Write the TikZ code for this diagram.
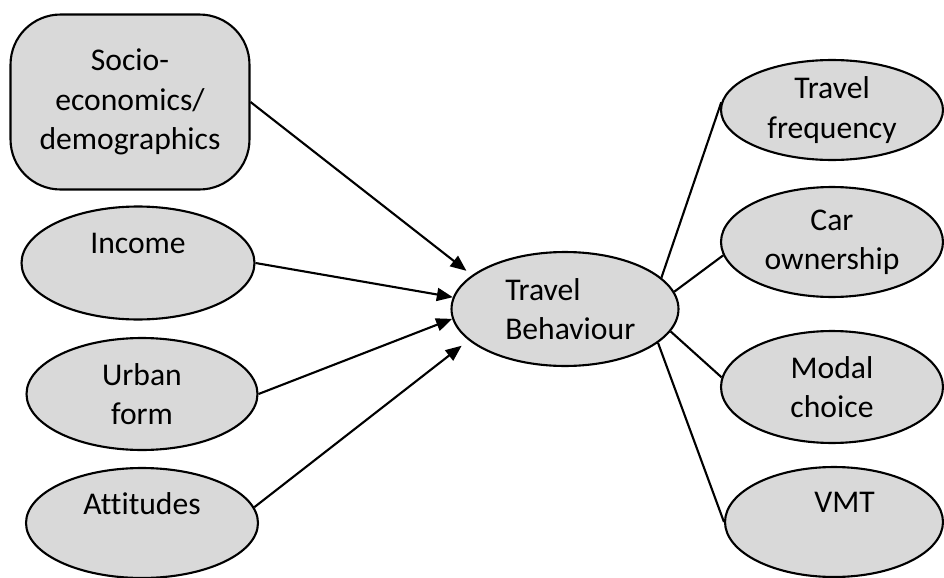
\documentclass[tikz,border=0pt]{standalone}
\usepackage{fontspec}
\setmainfont{Carlito}[Ligatures=NoCommon]
\usepackage{xcolor}
\usetikzlibrary{positioning,arrows.meta,shapes.geometric}
\definecolor{shade}{HTML}{D9D9D9}

\begin{document}
\begin{tikzpicture}[
    x=0.02cm, y=-0.02cm,
    every node/.style={font=\fontsize{18}{22.4}\selectfont},
    oval/.style={ellipse, draw, fill=shade, line width=1.2pt, inner sep=0pt, align=center},
    roundbox/.style={rectangle, draw, fill=shade, line width=1.2pt, rounded corners=1cm, align=center},
    feed/.style={-{Triangle[length=0.32cm, width=0.26cm]}, line width=1.2pt},
    tie/.style={line width=1.2pt}
]
\useasboundingbox (0,0) rectangle (944,578);

% influencing factors
\node[roundbox, minimum width=4.78cm, minimum height=3.5cm] (Socio) at (130,102) {Socio-\\economics/\\demographics};
\node[oval, minimum width=4.66cm, minimum height=2.26cm] (Income) at (138,263) {Income\\~};
\node[oval, minimum width=4.62cm, minimum height=2.24cm] (Urban) at (142,394) {Urban\\form};
\node[oval, minimum width=4.64cm, minimum height=2.2cm] (Attitudes) at (142,523) {Attitudes\\~};

% centre
\node[oval, align=left, minimum width=4.54cm, minimum height=2.28cm] (Behaviour) at (565,309) {\hspace*{6pt}Travel\\\hspace*{6pt}Behaviour};

% outcomes
\node[oval, minimum width=4.44cm, minimum height=2.0cm] (Freq) at (832,110) {Travel\\frequency};
\node[oval, minimum width=4.44cm, minimum height=2.2cm] (CarOwn) at (832,242) {Car\\ownership};
\node[oval, minimum width=4.44cm, minimum height=2.24cm] (Modal) at (832,387) {Modal\\choice};
\node[oval, minimum width=4.36cm, minimum height=2.2cm] (VMT) at (834,522) {\hspace*{12pt}VMT\\~};

\draw[feed, shorten >=4pt] (Socio.east) -- (Behaviour.160);
\draw[feed] (Income.east) -- (Behaviour.174);
\draw[feed] (Urban.east) -- (Behaviour.185);
\draw[feed, shorten >=5pt] (Attitudes.8) -- (Behaviour.198);

\draw[tie] (Behaviour.18) -- (Freq.176);
\draw[tie] (Behaviour.9) -- (CarOwn.187);
\draw[tie] (Behaviour.348) -- (Modal.175);
\draw[tie] (Behaviour.340) -- (VMT.west);

\end{tikzpicture}
\end{document}
